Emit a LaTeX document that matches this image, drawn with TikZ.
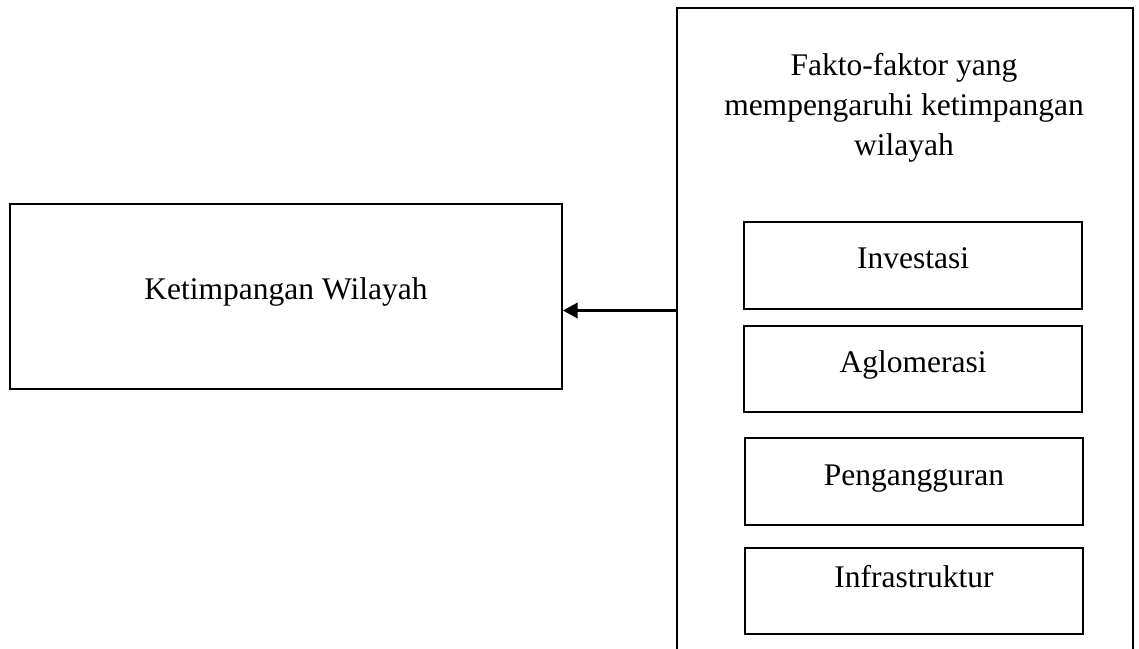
\documentclass[tikz,border=0pt]{standalone}
\usepackage{fontspec}
\setmainfont{Liberation Serif}
\usetikzlibrary{arrows.meta}
\begin{document}
\begin{tikzpicture}[x=1pt,y=-1pt,
  box/.style={draw=black,line width=1.4pt,rectangle,inner sep=0pt},
  lbl/.style={font=\fontsize{31.5}{40}\selectfont,inner sep=0pt,anchor=base,align=center},
  conn/.style={line width=3.6pt,-{Triangle[length=15pt,width=15pt]}}]
\useasboundingbox (0,0) rectangle (1139,648);
\clip (0,0) rectangle (1139,648);
% outer factor box
\node[box,minimum width=456pt,minimum height=652pt] (faktor) at (905,334) {};
\node[lbl] (faktorlbl) at (904,155.5) {Fakto-faktor yang\\mempengaruhi ketimpangan\\wilayah};
% left box
\node[box,minimum width=552pt,minimum height=185pt] (ketim) at (286,296.5) {};
\node[lbl] (ketimlbl) at (286,299) {Ketimpangan Wilayah};
% factor boxes
\node[box,minimum width=338pt,minimum height=87pt] (inv) at (913,265.5) {};
\node[lbl] (invlbl) at (913,268) {Investasi};
\node[box,minimum width=338pt,minimum height=86pt] (aglo) at (913,369) {};
\node[lbl] (aglolbl) at (913,372) {Aglomerasi};
\node[box,minimum width=338pt,minimum height=87pt] (peng) at (914,481.5) {};
\node[lbl] (penglbl) at (914,485) {Pengangguran};
\node[box,minimum width=338pt,minimum height=86pt] (infra) at (914,591) {};
\node[lbl] (infralbl) at (914,587) {Infrastruktur};
% arrow
\coordinate (from) at (faktor.west |- 0,310.5);
\coordinate (to) at (ketim.east |- 0,310.5);
\draw[conn] (from) -- (to);
\end{tikzpicture}
\end{document}
